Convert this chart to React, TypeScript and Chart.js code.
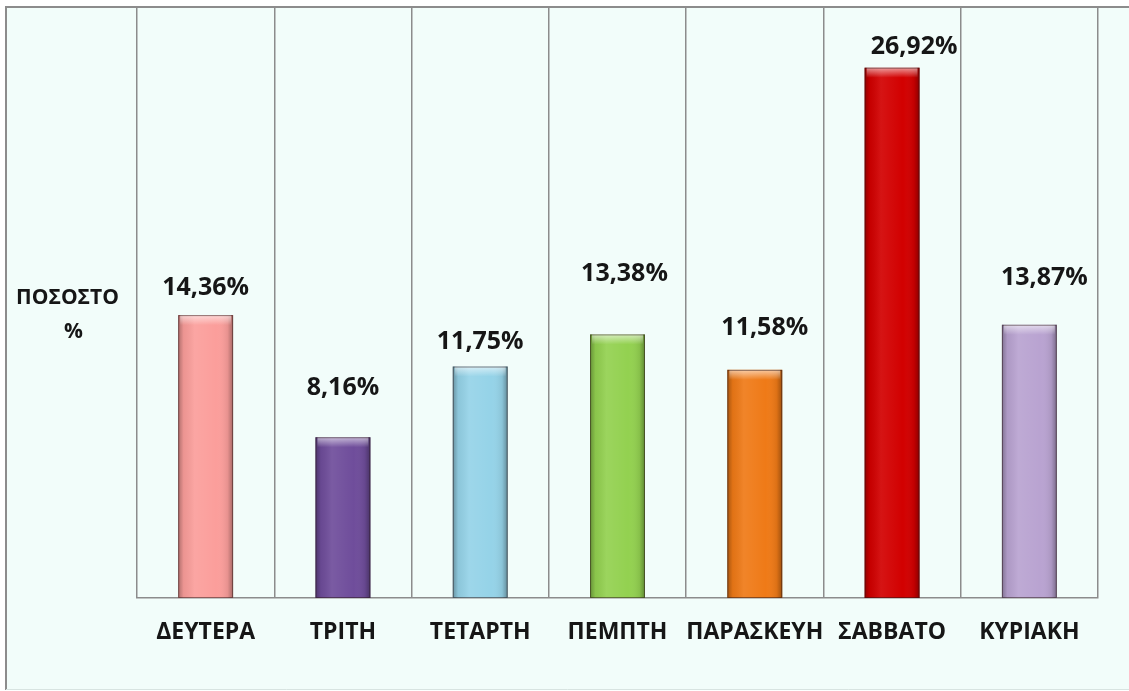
import React, { useEffect, useRef } from 'react';
import { Chart, registerables } from 'chart.js';

Chart.register(...registerables);

const days = ['ΔΕΥΤΕΡΑ', 'ΤΡΙΤΗ', 'ΤΕΤΑΡΤΗ', 'ΠΕΜΠΤΗ', 'ΠΑΡΑΣΚΕΥΗ', 'ΣΑΒΒΑΤΟ', 'ΚΥΡΙΑΚΗ'];
const percentages = [14.36, 8.16, 11.75, 13.38, 11.58, 26.92, 13.87];
const valueLabels = ['14,36%', '8,16%', '11,75%', '13,38%', '11,58%', '26,92%', '13,87%'];
const barColors = ['#fb9e9b', '#6f4d9b', '#95d3e8', '#93d150', '#ef7a17', '#d20000', '#b9a3d1'];
const yAxisTitle = ['ΠΟΣΟΣΤΟ', '%'];
const yMin = 0;
const yMax = 30;

// label placement relative to bar top (pixels)
const labelRise = [27, 49, 25, 61, 42, 21, 47];
const labelShift = [0, 0, 0, 7, 10, 22, 15];

const FONT = '"Open Sans", "Noto Sans", sans-serif';
const TEXT = '#161616';
const GRID = '#8c8c8c';

const framePlugin = {
  id: 'frame',
  beforeDraw(chart: any) {
    const { ctx, width, height } = chart;
    ctx.save();
    ctx.fillStyle = '#ffffff';
    ctx.fillRect(0, 0, width, height);
    ctx.fillStyle = '#f2fdfa';
    ctx.fillRect(6, 7, width - 6, height - 8);
    ctx.strokeStyle = GRID;
    ctx.lineWidth = 2;
    ctx.beginPath();
    ctx.moveTo(6, height - 1);
    ctx.lineTo(6, 7);
    ctx.lineTo(width, 7);
    ctx.stroke();
    ctx.strokeStyle = '#d8e4e1';
    ctx.lineWidth = 1;
    ctx.beginPath();
    ctx.moveTo(6, height - 1.5);
    ctx.lineTo(width, height - 1.5);
    ctx.stroke();
    ctx.restore();
  },
  afterDraw(chart: any) {
    const { ctx, chartArea } = chart;
    const cx = (6 + chartArea.left) / 2;
    const mid = (chartArea.top + chartArea.bottom) / 2;
    ctx.save();
    ctx.fillStyle = TEXT;
    ctx.font = `bold 21px ${FONT}`;
    ctx.textAlign = 'center';
    ctx.textBaseline = 'middle';
    ctx.fillText(yAxisTitle[0], cx - 4, mid - 4);
    ctx.fillText(yAxisTitle[1], cx + 2, mid + 30);
    ctx.restore();
  },
};

const barStylePlugin = {
  id: 'barStyle',
  afterDatasetsDraw(chart: any) {
    const { ctx } = chart;
    const meta = chart.getDatasetMeta(0);
    meta.data.forEach((el: any, i: number) => {
      const { x, y, width, base } = el.getProps(['x', 'y', 'width', 'base'], true);
      const left = x - width / 2;
      const h = base - y;
      ctx.save();
      const g = ctx.createLinearGradient(left, 0, left + width, 0);
      g.addColorStop(0, 'rgba(0,0,0,0.3)');
      g.addColorStop(0.1, 'rgba(0,0,0,0.06)');
      g.addColorStop(0.3, 'rgba(255,255,255,0.08)');
      g.addColorStop(0.7, 'rgba(255,255,255,0.0)');
      g.addColorStop(0.9, 'rgba(0,0,0,0.08)');
      g.addColorStop(1, 'rgba(0,0,0,0.34)');
      ctx.fillStyle = g;
      ctx.fillRect(left, y, width, h);
      const t = ctx.createLinearGradient(0, y, 0, y + 10);
      t.addColorStop(0, 'rgba(255,255,255,0.6)');
      t.addColorStop(1, 'rgba(255,255,255,0)');
      ctx.fillStyle = t;
      ctx.fillRect(left + 2, y, width - 4, 10);
      ctx.strokeStyle = 'rgba(40,20,20,0.5)';
      ctx.lineWidth = 1;
      ctx.strokeRect(left + 0.5, y + 0.5, width - 1, h - 1);
      ctx.fillStyle = TEXT;
      ctx.font = `bold 25px ${FONT}`;
      ctx.textAlign = 'center';
      ctx.textBaseline = 'middle';
      ctx.fillText(valueLabels[i], x + labelShift[i], y - labelRise[i]);
      ctx.restore();
    });
  },
};

export default function App() {
  const ref = useRef<HTMLCanvasElement>(null);
  useEffect(() => {
    document.body.style.margin = '0';
    const canvas = ref.current!;
    const chart = new Chart(canvas, {
      type: 'bar',
      data: {
        labels: days,
        datasets: [
          {
            data: percentages,
            backgroundColor: barColors,
            borderWidth: 0,
            barPercentage: 0.4,
            categoryPercentage: 1,
          },
        ],
      },
      options: {
        animation: false,
        responsive: false,
        layout: { padding: { left: 137, top: 7, right: 31, bottom: 0 } },
        plugins: { legend: { display: false }, tooltip: { enabled: false } },
        scales: {
          x: {
            grid: { color: GRID, lineWidth: 1.5, drawTicks: false, offset: true },
            border: { display: true, color: GRID, width: 1.5 },
            ticks: {
              color: TEXT,
              font: { family: FONT, size: 23, weight: 'bold' },
              padding: 21,
              maxRotation: 0,
              minRotation: 0,
              autoSkip: false,
            },
            afterFit(scale: any) {
              scale.height = 93;
            },
          },
          y: { display: false, min: yMin, max: yMax },
        },
      },
      plugins: [framePlugin, barStylePlugin],
    });
    return () => chart.destroy();
  }, []);
  return <canvas ref={ref} width={1129} height={691} style={{ display: 'block', width: 1129, height: 691 }} />;
}
